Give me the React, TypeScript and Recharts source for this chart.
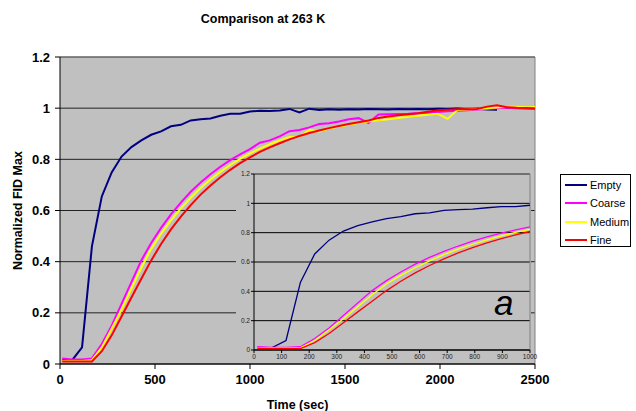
import {
  CartesianGrid,
  Legend,
  Line,
  LineChart,
  ReferenceLine,
  XAxis,
  YAxis,
} from "recharts";

const FONT = '"Liberation Sans", Arial, sans-serif';

const SERIES_KEYS = ["empty", "coarse", "medium", "fine"];
const SERIES_NAMES = ["Empty", "Coarse", "Medium", "Fine"];
const SERIES_COLORS = ["#000080", "#FF00FF", "#FFFF00", "#FF0000"];

// sample times (sec)
const TIME_SEC = [
  12, 64, 116, 168, 220, 272, 324, 376, 428, 480, 532, 584, 636, 688, 740, 792, 844,
  896, 948, 1000, 1052, 1104, 1156, 1208, 1260, 1312, 1364, 1416, 1468, 1520, 1572,
  1624, 1676, 1728, 1780, 1832, 1884, 1936, 1988, 2040, 2092, 2144, 2196, 2248, 2300,
  2352, 2404, 2456, 2508,
];

const EMPTY = [
  0.015, 0.015, 0.065, 0.46, 0.655, 0.749, 0.811, 0.848, 0.874, 0.896, 0.909, 0.929,
  0.935, 0.952, 0.957, 0.96, 0.97, 0.978, 0.978, 0.987, 0.99, 0.989, 0.991, 0.997,
  0.983, 0.998, 0.993, 0.996, 0.994, 0.996, 0.995, 0.997, 0.996, 0.995, 0.997, 0.996,
  0.997, 0.996, 0.998, 0.997, 0.999, 0.996, 0.998, 0.995, 0.994,
];

const COARSE = [
  0.022, 0.018, 0.018, 0.022, 0.078, 0.15, 0.235, 0.32, 0.405, 0.473, 0.532, 0.585,
  0.631, 0.673, 0.709, 0.742, 0.771, 0.797, 0.819, 0.84, 0.865, 0.874, 0.89, 0.91,
  0.915, 0.925, 0.938, 0.941, 0.948, 0.957, 0.961, 0.942, 0.975, 0.976, 0.977, 0.978,
  0.98, 0.982, 0.985, 0.988, 0.99, 0.992, 0.995, 0.997, 1.0, 1.002, 1.0, 0.998, 0.996,
];

const MEDIUM = [
  0.012, 0.012, 0.012, 0.015, 0.065, 0.138, 0.213, 0.295, 0.376, 0.45, 0.509, 0.561,
  0.608, 0.65, 0.688, 0.721, 0.751, 0.778, 0.802, 0.823, 0.842, 0.859, 0.874, 0.887,
  0.888, 0.915, 0.909, 0.92, 0.928, 0.935, 0.943, 0.948, 0.953, 0.957, 0.962, 0.966,
  0.97, 0.974, 0.978, 0.958, 0.993, 0.995, 0.997, 1.0, 1.003, 1.005, 1.006, 1.004, 1.005,
];

const FINE = [
  0.01, 0.01, 0.01, 0.01, 0.05, 0.112, 0.186, 0.26, 0.333, 0.405, 0.469, 0.526, 0.576,
  0.621, 0.662, 0.698, 0.73, 0.759, 0.785, 0.808, 0.829, 0.847, 0.863, 0.878, 0.891,
  0.903, 0.913, 0.922, 0.93, 0.938, 0.945, 0.952, 0.962, 0.967, 0.972, 0.976, 0.98,
  0.986, 0.992, 0.994, 0.996, 0.996, 0.997, 1.006, 1.011, 1.004, 1.002, 1.001, 1.0,
];

const Y_TICKS = [0, 0.2, 0.4, 0.6, 0.8, 1, 1.2];
const X_TICKS = [0, 500, 1000, 1500, 2000, 2500];
const INSET_X_TICKS = [0, 100, 200, 300, 400, 500, 600, 700, 800, 900, 1000];
const INSET_X_MAX = 1000;

const rows = TIME_SEC.map((t, i) => ({
  t,
  empty: EMPTY[i] ?? null,
  coarse: COARSE[i] ?? null,
  medium: MEDIUM[i] ?? null,
  fine: FINE[i] ?? null,
}));

const insetRows = rows.filter((r) => r.t <= INSET_X_MAX);

const boldTick = { fill: "#000", fontSize: 13, fontWeight: "bold", fontFamily: FONT };
const smallTick = { fill: "#222", fontSize: 6.5, fontFamily: FONT };
const axisLabelStyle = { fill: "#000", fontSize: 12.5, fontWeight: "bold", fontFamily: FONT };

// legend keeps the series order (Recharts would sort by name)
function LegendBox() {
  return (
    <div
      style={{
        width: 71,
        height: 73,
        boxSizing: "border-box",
        border: "1px solid #000",
        background: "#fff",
        padding: "1px 0 0 4px",
        fontFamily: FONT,
        fontSize: 11,
        color: "#000",
      }}
    >
      {SERIES_NAMES.map((name, i) => (
        <div key={name} style={{ display: "flex", alignItems: "center", height: 18.3 }}>
          <span
            style={{
              display: "inline-block",
              width: 22,
              height: 2,
              background: SERIES_COLORS[i],
              marginRight: 3,
            }}
          />
          {name}
        </div>
      ))}
    </div>
  );
}

export default function App() {
  return (
    <div style={{ position: "absolute", left: 0, top: 0, width: 636, height: 411, background: "#fff" }}>
      <div
        style={{
          position: "absolute",
          left: 0,
          top: 11,
          width: 526,
          textAlign: "center",
          fontFamily: FONT,
          fontSize: 12.5,
          fontWeight: "bold",
          lineHeight: "16px",
          zIndex: 2,
        }}
      >
        Comparison at 263 K
      </div>

      <LineChart width={636} height={411} data={rows} margin={{ top: 57, right: 101, bottom: 17, left: 20 }}>
        <CartesianGrid vertical={false} stroke="#222" fill="#C0C0C0" fillOpacity={1} />
        <XAxis
          dataKey="t"
          type="number"
          domain={[0, 2500]}
          ticks={X_TICKS}
          allowDataOverflow
          height={30}
          tickSize={5}
          tickMargin={6}
          stroke="#000"
          tick={boldTick}
          interval={0}
          label={{ value: "Time (sec)", position: "bottom", offset: 6, style: axisLabelStyle }}
        />
        <YAxis
          type="number"
          domain={[0, 1.2]}
          ticks={Y_TICKS}
          width={40}
          tickSize={5}
          tickMargin={5}
          stroke="#000"
          tick={boldTick}
          interval={0}
          label={{
            value: "Normalized FID Max",
            angle: -90,
            position: "insideLeft",
            offset: -2,
            style: { ...axisLabelStyle, textAnchor: "middle" },
          }}
        />
        <ReferenceLine y={1.2} stroke="#808080" />
        <ReferenceLine x={2500} stroke="#808080" />
        {SERIES_KEYS.map((k, i) => (
          <Line
            key={k}
            dataKey={k}
            name={SERIES_NAMES[i]}
            stroke={SERIES_COLORS[i]}
            strokeWidth={2}
            type="linear"
            dot={false}
            activeDot={false}
            isAnimationActive={false}
          />
        ))}
        <Legend
          layout="vertical"
          align="center"
          verticalAlign="middle"
          wrapperStyle={{ left: 560, top: 174, width: 71, height: 73 }}
          content={() => <LegendBox />}
        />
      </LineChart>

      {/* inset: first 1000 s */}
      <div
        style={{
          position: "absolute",
          left: 236,
          top: 168,
          width: 295,
          height: 195,
          background: "#C0C0C0",
        }}
      >
        <LineChart width={303} height={195} data={insetRows} margin={{ top: 6, right: 9, bottom: 0, left: 4 }}>
          <CartesianGrid vertical={false} stroke="#000" fill="#C0C0C0" fillOpacity={1} />
          <XAxis
            dataKey="t"
            type="number"
            domain={[0, INSET_X_MAX]}
            ticks={INSET_X_TICKS}
            allowDataOverflow
            height={13}
            tickSize={3}
            tickMargin={1}
            stroke="#000"
            tick={smallTick}
            interval={0}
          />
          <YAxis
            type="number"
            domain={[0, 1.2]}
            ticks={Y_TICKS}
            width={14}
            tickSize={3}
            tickMargin={1}
            stroke="#000"
            tick={smallTick}
            interval={0}
          />
          <ReferenceLine y={1.2} stroke="#808080" />
          <ReferenceLine x={INSET_X_MAX} stroke="#808080" />
          {SERIES_KEYS.map((k, i) => (
            <Line
              key={k}
              dataKey={k}
              name={SERIES_NAMES[i]}
              stroke={SERIES_COLORS[i]}
              strokeWidth={1.3}
              type="linear"
              dot={false}
              activeDot={false}
              isAnimationActive={false}
            />
          ))}
        </LineChart>
        <span
          style={{
            position: "absolute",
            left: 258,
            top: 117,
            fontFamily: FONT,
            fontSize: 35,
            fontStyle: "italic",
            lineHeight: "35px",
            color: "#000",
          }}
        >
          a
        </span>
      </div>
    </div>
  );
}
